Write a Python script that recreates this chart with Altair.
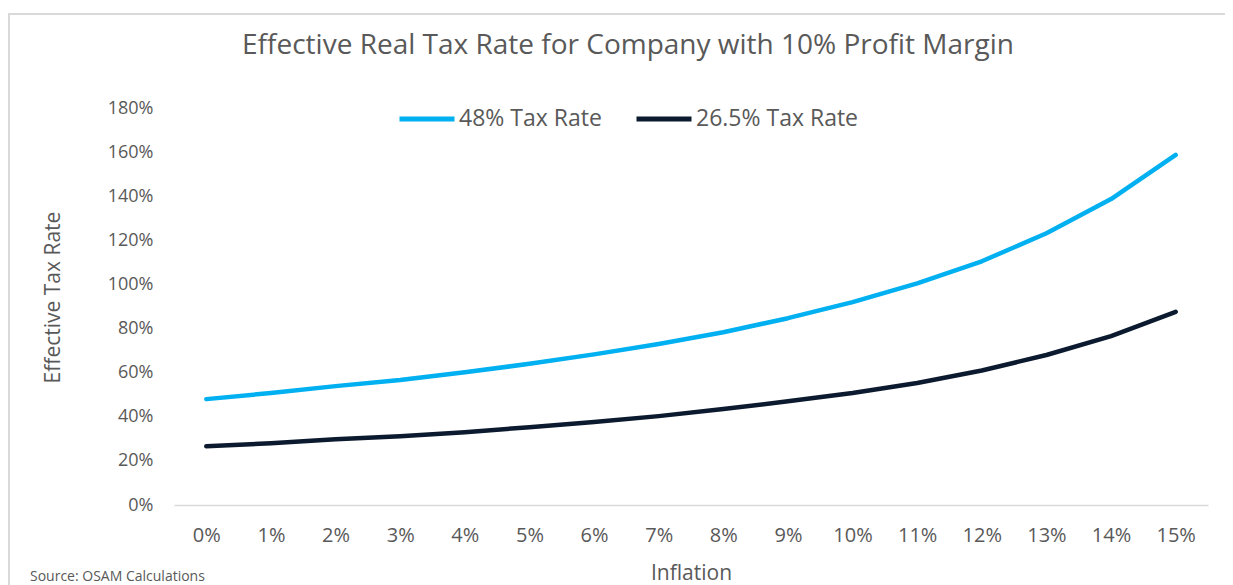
import altair as alt
import pandas as pd

inflation = ["0%", "1%", "2%", "3%", "4%", "5%", "6%", "7%", "8%", "9%",
             "10%", "11%", "12%", "13%", "14%", "15%"]
rate_48 = [48.0, 50.8, 53.9, 56.7, 60.2, 64.0, 68.3, 73.0, 78.3, 84.7,
           92.0, 100.5, 110.5, 123.2, 138.7, 158.7]
rate_265 = [26.6, 28.0, 29.8, 31.2, 33.0, 35.3, 37.6, 40.3, 43.5, 47.0,
            50.8, 55.3, 61.0, 68.0, 76.6, 87.6]
series_names = ["48% Tax Rate", "26.5% Tax Rate"]
series_colors = ["#00B0F0", "#0B1A2E"]
y_ticks = [0, 0.2, 0.4, 0.6, 0.8, 1.0, 1.2, 1.4, 1.6, 1.8]
title_text = "Effective Real Tax Rate for Company with 10% Profit Margin"
source_text = "Source: OSAM Calculations"

rows = []
for name, vals in zip(series_names, [rate_48, rate_265]):
    for inf, v in zip(inflation, vals):
        rows.append({"Inflation": inf, "Rate": v / 100.0, "Series": name})
df = pd.DataFrame(rows)

TEXT = "#595959"
FONT = "Open Sans"
W, H = 1034, 397

lines = alt.Chart(df).mark_line(strokeWidth=4.5, strokeCap="round", strokeJoin="round").encode(
    x=alt.X("Inflation:O", sort=inflation,
            scale=alt.Scale(paddingOuter=0.5),
            axis=alt.Axis(title="Inflation", labelAngle=0, ticks=False, domain=True,
                          domainColor="#D9D9D9", domainWidth=1.5,
                          labelFontSize=20, labelColor=TEXT, labelFont=FONT,
                          labelPadding=20, titleFontSize=21, titleColor=TEXT,
                          titleFont=FONT, titleFontWeight="normal", titlePadding=17)),
    y=alt.Y("Rate:Q", scale=alt.Scale(domain=[0, 1.8], nice=False),
            axis=alt.Axis(title="Effective Tax Rate", format=".0%", values=y_ticks,
                          grid=False, ticks=False, domain=False,
                          labelFontSize=18, labelColor=TEXT, labelFont=FONT,
                          labelPadding=21, titleFontSize=21, titleColor=TEXT,
                          titleFont=FONT, titleFontWeight="normal", titlePadding=44,
                          titleY=189)),
    color=alt.Color("Series:N", sort=series_names,
                    scale=alt.Scale(domain=series_names, range=series_colors),
                    legend=alt.Legend(title=None, orient="none", direction="horizontal",
                                      legendX=223, legendY=-19, symbolType="stroke",
                                      symbolSize=3025, symbolStrokeWidth=5,
                                      labelFontSize=23, labelColor=TEXT, labelFont=FONT,
                                      labelLimit=400, labelOffset=2, columnPadding=24,
                                      padding=0)),
)

title = alt.Chart(pd.DataFrame({"t": [title_text]})).mark_text(
    align="center", baseline="middle", fontSize=28, color=TEXT, font=FONT
).encode(text="t:N", x=alt.value(454), y=alt.value(-62))

source = alt.Chart(pd.DataFrame({"t": [source_text]})).mark_text(
    align="left", baseline="middle", fontSize=14, color=TEXT, font=FONT
).encode(text="t:N", x=alt.value(-144), y=alt.value(469))

border = alt.Chart(pd.DataFrame({"a": [0]})).mark_rect(
    fill=None, stroke="#D9D9D9", strokeWidth=2
).encode(x=alt.value(-165), x2=alt.value(1100), y=alt.value(-94), y2=alt.value(530))

chart = alt.layer(border, lines, title, source).properties(
    width=W, height=H,
    background="white",
    autosize=alt.AutoSizeParams(type="none"),
    padding={"left": 166, "top": 100, "right": 17, "bottom": 80},
).configure_view(stroke=None)

chart.save("out.html", embed_options={"renderer": "svg", "actions": False})
